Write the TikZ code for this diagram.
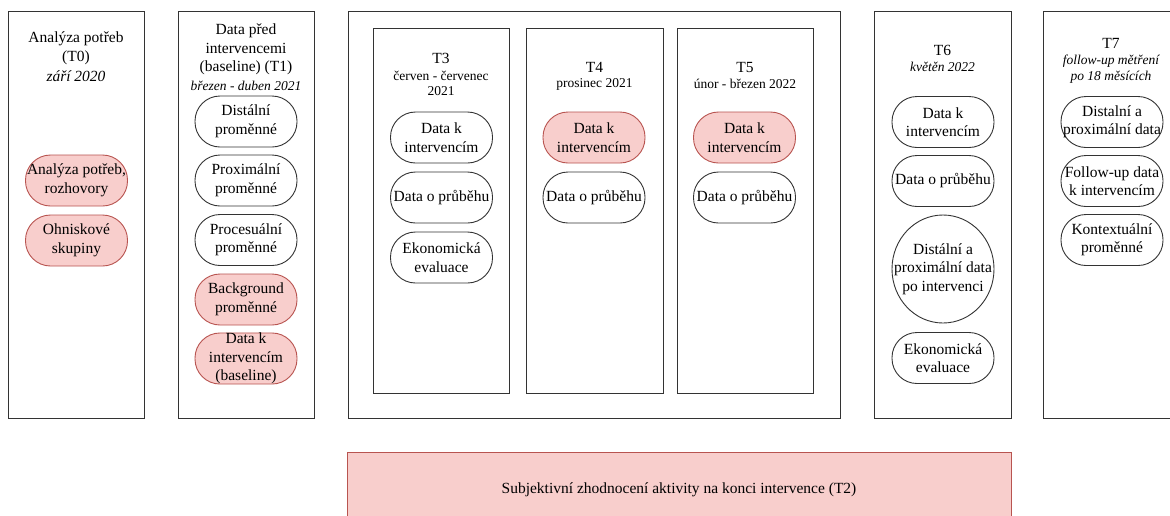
\documentclass[tikz,border=0pt]{standalone}
\usepackage{fontspec}
\setmainfont{Liberation Serif}
\usetikzlibrary{shapes.geometric}
\definecolor{pinkfill}{HTML}{F8CECC}
\definecolor{pinkline}{HTML}{B85450}
\definecolor{boxline}{HTML}{333333}
\tikzset{
  big/.style={font=\fontsize{15.5}{18.5}\selectfont},
  small/.style={font=\fontsize{13.5}{15.5}\selectfont},
  smallit/.style={font=\fontsize{13.5}{15.5}\selectfont\itshape},
  colbox/.style={draw=boxline, line width=1pt},
  txt/.style={align=center, inner sep=0pt},
  pill/.style={draw=boxline, line width=0.9pt, rounded corners=25pt, minimum width=102pt, minimum height=51pt, inner sep=0pt, align=center, big},
  pinkpill/.style={pill, draw=pinkline, fill=pinkfill},
  ovalline/.style={draw=boxline, line width=0.9pt}
}
\begin{document}
\begin{tikzpicture}[x=1pt,y=-1pt]
\useasboundingbox (0,0) rectangle (1170,515);
\clip (0,0) rectangle (1170,515);
\fill[white] (0,0) rectangle (1170,515);
% column boxes
\draw[colbox] (8,11) rectangle (144,418);
\draw[colbox] (178,11) rectangle (314,418);
\draw[colbox] (348,11) rectangle (840,418);
\draw[colbox] (373,28) rectangle (509,393);
\draw[colbox] (526,28) rectangle (663,393);
\draw[colbox] (677,28) rectangle (813,393);
\draw[colbox] (874,11) rectangle (1011,418);
\draw[colbox] (1043,11) rectangle (1185,418);
% bottom box
\node[draw=pinkline, fill=pinkfill, line width=1pt, minimum width=664pt, minimum height=90pt, anchor=north west, inner sep=0pt] (t2box) at (347,452) {};
\node[txt, big] (t2text) at (679,490) {Subjektivní zhodnocení aktivity na konci intervence (T2)};
% T0
\node[txt, big] (hT0) at (76,48.5) {Analýza potřeb\\(T0)};
\node[txt, font=\fontsize{15.5}{18.5}\selectfont\itshape] (dT0) at (76,76) {září 2020};
\node[pinkpill] (a1) at (76.5,180.5) {Analýza potřeb,\\rozhovory};
\node[pinkpill] (a2) at (76.5,240.5) {Ohniskové\\skupiny};
% T1
\node[txt, big] (hT1) at (246,49.5) {Data před\\intervencemi\\(baseline) (T1)};
\node[txt, smallit] (dT1) at (246,86) {březen - duben 2021};
\node[pill] (b1) at (246,121.5) {Distální\\proměnné};
\node[pill] (b2) at (246,180.5) {Proximální\\proměnné};
\node[pill] (b3) at (246,240) {Procesuální\\proměnné};
\node[pinkpill] (b4) at (246,299.5) {Background\\proměnné};
\node[pinkpill] (b5) at (246,358.5) {Data k\\intervencím\\(baseline)};
% T3
\node[txt, big] (hT3) at (441,58) {T3};
\node[txt, small] (dT3) at (441,83.5) {červen - červenec\\2021};
\node[pill] (c1) at (441.5,137.5) {Data k\\intervencím};
\node[pill] (c2) at (441.5,197.5) {Data o průběhu};
\node[pill] (c3) at (441.5,257.5) {Ekonomická\\evaluace};
% T4
\node[txt, big] (hT4) at (594.5,67) {T4};
\node[txt, small] (dT4) at (594.5,84) {prosinec 2021};
\node[pinkpill] (d1) at (594,137.5) {Data k\\intervencím};
\node[pill] (d2) at (594,197.5) {Data o průběhu};
% T5
\node[txt, big] (hT5) at (745,67) {T5};
\node[txt, small] (dT5) at (745,84) {únor - březen 2022};
\node[pinkpill] (e1) at (744.5,137.5) {Data k\\intervencím};
\node[pill] (e2) at (744.5,197.5) {Data o průběhu};
% T6
\node[txt, big] (hT6) at (942.5,50) {T6};
\node[txt, smallit] (dT6) at (942.5,67) {květěn 2022};
\node[pill] (f1) at (943,122) {Data k\\intervencím};
\node[pill] (f2) at (943,181) {Data o průběhu};
\node[txt, big] (f3) at (943,269) {Distální a\\proximální data\\po intervenci};
\draw[ovalline] (f3.center) ellipse [x radius=51, y radius=54];
\node[pill] (f4) at (943,358) {Ekonomická\\evaluace};
% T7
\node[txt, big] (hT7) at (1111,43) {T7};
\node[txt, smallit] (dT7) at (1111,69) {follow-up mětření\\po 18 měsících};
\node[pill] (g1) at (1112,122) {Distalní a\\proximální data};
\node[pill] (g2) at (1112,181) {Follow-up data\\k intervencím};
\node[pill] (g3) at (1112,240) {Kontextuální\\proměnné};
\end{tikzpicture}
\end{document}
